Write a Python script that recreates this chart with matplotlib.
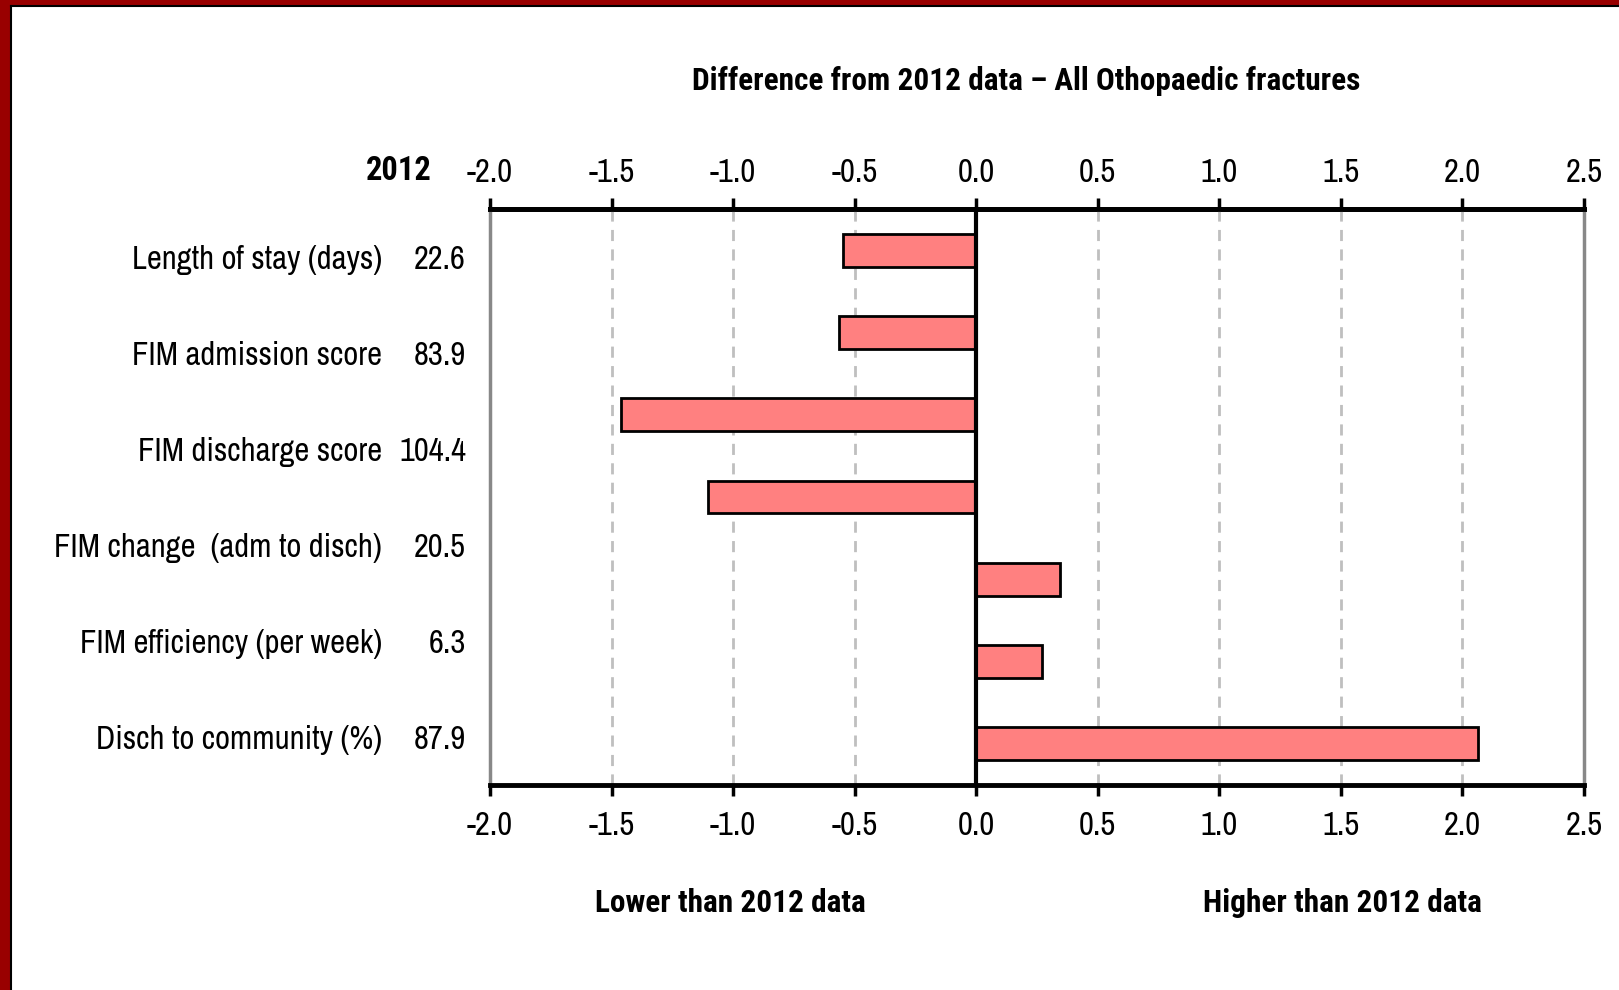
import matplotlib
matplotlib.use("Agg")
import matplotlib.pyplot as plt
from matplotlib.patches import Rectangle

plt.rcParams['font.family'] = ['Archivo Narrow', 'Liberation Sans', 'DejaVu Sans']
BOLD = ['Roboto Condensed', 'Liberation Sans', 'DejaVu Sans']

# data
row_labels = ["Length of stay (days)", "FIM admission score", "FIM discharge score",
              "FIM change  (adm to disch)", "FIM efficiency (per week)", "Disch to community (%)"]
values_2012 = ["22.6", "83.9", "104.4", "20.5", "6.3", "87.9"]
diffs = [-0.55, -0.565, -1.46, -1.105, 0.345, 0.27, 2.065]
ticks = [-2.0, -1.5, -1.0, -0.5, 0.0, 0.5, 1.0, 1.5, 2.0, 2.5]

W, H = 1619, 990
FS = 23.5
fig = plt.figure(figsize=(W / 100, H / 100), dpi=100)
ax = fig.add_axes([490 / W, 1 - 785 / H, (1584 - 490) / W, (785 - 209) / H])

# frame: red band on left and top with a black inner line
fig.patches.append(Rectangle((0, 0), 10 / W, 1, transform=fig.transFigure, color="#990000", zorder=0))
fig.patches.append(Rectangle((0, 1 - 5 / H), 1, 5 / H, transform=fig.transFigure, color="#990000", zorder=0))
fig.add_artist(plt.Line2D([11 / W, 11 / W], [0, 1 - 6 / H], transform=fig.transFigure, color="black", lw=1.5))
fig.add_artist(plt.Line2D([11 / W, 1], [1 - 6 / H, 1 - 6 / H], transform=fig.transFigure, color="black", lw=1.5))

n = len(diffs)
ys = list(range(n))
ax.barh(ys, diffs, height=0.4, color="#FF8080", edgecolor="black", linewidth=2, zorder=3)
ax.set_ylim(n - 0.5, -0.5)
ax.set_xlim(-2.0, 2.5)
ax.set_yticks([])
ax.set_xticks(ticks)
ax.set_xticklabels([f"{t:.1f}" for t in ticks])
ax.tick_params(axis="x", direction="out", length=8, width=2.5, labelsize=FS, pad=11, color="black")

# top axis with its own (smaller) label pad
sec = ax.secondary_xaxis("top")
sec.set_xticks(ticks)
sec.set_xticklabels([f"{t:.1f}" for t in ticks])
sec.tick_params(axis="x", direction="out", length=8, width=2.5, labelsize=FS, pad=7, color="black")
sec.spines["top"].set_linewidth(3.5)
sec.spines["top"].set_color("black")

for t in ticks[1:-1]:
    if t != 0:
        ax.axvline(t, color="#BFBFBF", lw=2, dashes=(4, 3), zorder=1)
ax.axvline(0, color="black", lw=3, zorder=4)
for s in ("top", "bottom"):
    ax.spines[s].set_linewidth(3.5)
    ax.spines[s].set_color("black")
for s in ("left", "right"):
    ax.spines[s].set_linewidth(2.5)
    ax.spines[s].set_color("#888888")

# row labels and 2012 values (evenly spread over the plot height)
k = len(row_labels)
for i, (lab, val) in enumerate(zip(row_labels, values_2012)):
    yp = 1 - (212 + (785 - 209) * (i + 0.5) / k) / H
    fig.text(382 / W, yp, lab, ha="right", va="center", fontsize=FS)
    fig.text(466 / W, yp, val, ha="right", va="center", fontsize=FS)

fig.text(432 / W, 1 - 171 / H, "2012", ha="right", va="center", fontsize=FS, fontweight="bold", family=BOLD)
fig.text(1026 / W, 1 - 81 / H, "Difference from 2012 data \u2013 All Othopaedic fractures",
         ha="center", va="center", fontsize=22.5, fontweight="bold", family=BOLD)
fig.text(730 / W, 1 - 903 / H, "Lower than 2012 data", ha="center", va="center", fontsize=22.5,
         fontweight="bold", family=BOLD)
fig.text(1342 / W, 1 - 903 / H, "Higher than 2012 data", ha="center", va="center", fontsize=22.5,
         fontweight="bold", family=BOLD)

fig.savefig("out.png", dpi=100)
